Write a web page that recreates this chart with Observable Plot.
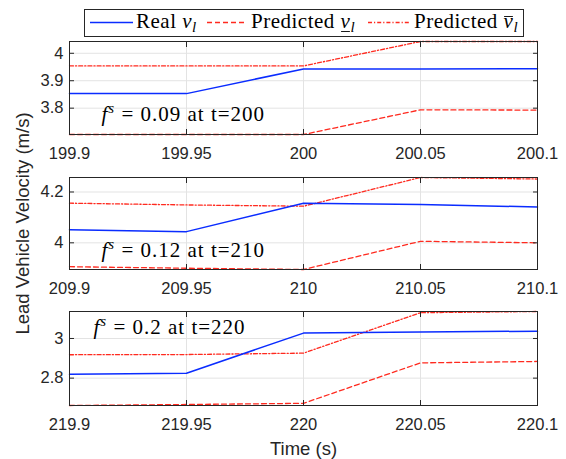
<!DOCTYPE html>
<html><head><meta charset="utf-8">
<script src="https://cdn.jsdelivr.net/npm/d3@7"></script>
<script src="https://cdn.jsdelivr.net/npm/@observablehq/plot@0.6"></script>
<style>
body{margin:0;background:#fff;}
#chart{position:relative;width:566px;height:459px;overflow:hidden;background:#fff;font-family:"Liberation Sans",Arial,sans-serif;}
#chart svg{position:absolute;left:0;overflow:visible;}
#chart text{white-space:pre;}
</style></head><body><div id="chart"></div>
<script>
// ---- data ----
const times1 = [199.9, 199.95, 200, 200.05, 200.1];
const real1  = [3.853, 3.853, 3.943, 3.943, 3.944];
const lower1 = [3.704, 3.704, 3.704, 3.794, 3.793];
const upper1 = [3.954, 3.954, 3.954, 4.043, 4.043];
const yTicks1 = [3.8, 3.9, 4];

const times2 = [209.9, 209.95, 210, 210.05, 210.1];
const real2  = [4.051, 4.044, 4.156, 4.151, 4.141];
const lower2 = [3.906, 3.900, 3.895, 4.006, 4.000];
const upper2 = [4.156, 4.149, 4.144, 4.257, 4.251];
const yTicks2 = [4, 4.2];

const times3 = [219.9, 219.95, 220, 220.05, 220.1];
const real3  = [2.819, 2.825, 3.027, 3.032, 3.037];
const lower3 = [2.662, 2.667, 2.673, 2.877, 2.884];
const upper3 = [2.918, 2.919, 2.926, 3.130, 3.136];
const yTicks3 = [2.8, 3];

const noteRest = [" = 0.09 at t=200", " = 0.12 at t=210", " = 0.2 at t=220"];
const xLabel = "Time (s)";
const yLabel = "Lead Vehicle Velocity (m/s)";

// ---- styles / layout ----
const BLUE = "#0a2cff", RED = "#ff2a1f", INK = "#262626", GRID = "#e3e3e3";
const DASH = "5,3", DASHDOT = "4,2,1.2,2";
const SERIF = "'Liberation Serif', 'Times New Roman', serif";
const panels = [
  {t: times1, r: real1, lo: lower1, up: upper1, yt: yTicks1, top: 41, h: 93, ndx: 32, ndy: 79},
  {t: times2, r: real2, lo: lower2, up: upper2, yt: yTicks2, top: 177, h: 92, ndx: 32, ndy: 79},
  {t: times3, r: real3, lo: lower3, up: upper3, yt: yTicks3, top: 311, h: 94, ndx: 24, ndy: 22.5}
];
const fmt = d => String(d);
const chart = document.getElementById("chart");

panels.forEach((p, i) => {
  const mt = 4, mb = i === 2 ? 54 : 30;
  const full = "fs" + noteRest[i];
  const svg = Plot.plot({
    width: 566, height: mt + p.h + mb,
    marginLeft: 69, marginRight: 29, marginTop: mt, marginBottom: mb,
    x: {domain: [p.t[0], p.t[p.t.length - 1]]},
    y: {domain: d3.extent([...p.r, ...p.lo, ...p.up])},
    style: {fontFamily: "'Liberation Sans', Arial, sans-serif", fontSize: "16.5px", color: INK, background: "transparent", overflow: "visible"},
    marks: [
      Plot.gridX(p.t, {stroke: GRID, strokeOpacity: 1}),
      Plot.gridY(p.yt, {stroke: GRID, strokeOpacity: 1}),
      Plot.line(p.up, {x: p.t, y: d => d, stroke: RED, strokeWidth: 1.3, strokeDasharray: DASHDOT}),
      Plot.line(p.lo, {x: p.t, y: d => d, stroke: RED, strokeWidth: 1.3, strokeDasharray: DASH}),
      Plot.line(p.r, {x: p.t, y: d => d, stroke: BLUE, strokeWidth: 1.5}),
      Plot.frame({stroke: INK}),
      Plot.axisX(p.t, {anchor: "bottom", tickSize: -5, fill: "none", stroke: INK, label: null}),
      Plot.axisX(p.t, {anchor: "top", tickSize: -5, fill: "none", stroke: INK, label: null}),
      Plot.axisY(p.yt, {anchor: "left", tickSize: -5, fill: "none", stroke: INK, label: null}),
      Plot.axisY(p.yt, {anchor: "right", tickSize: -5, fill: "none", stroke: INK, label: null}),
      Plot.axisX(p.t, {anchor: "bottom", tickSize: 0, tickPadding: 13, tickFormat: fmt, fill: INK,
        label: i === 2 ? xLabel : null, labelAnchor: "center", labelArrow: "none", labelOffset: 49}),
      Plot.axisY(p.yt, {anchor: "left", tickSize: 0, tickPadding: 6, tickFormat: fmt, fill: INK,
        label: i === 1 ? yLabel : null, labelAnchor: "center", labelArrow: "none", labelOffset: 54}),
      Plot.text([full], {text: d => d, frameAnchor: "top-left", dx: p.ndx, dy: p.ndy, textAnchor: "start",
        lineAnchor: "bottom", fontFamily: SERIF, fontSize: 21, fill: "black"})
    ]
  });
  svg.style.top = (p.top - mt) + "px";
  const s = d3.select(svg);
  s.selectAll("text").filter(function() { return this.textContent === yLabel || this.textContent === xLabel; })
    .style("font-size", "18.5px");
  s.selectAll("text").filter(function() { return this.textContent === full; }).each(function() {
    const t = d3.select(this).text(null)
      .style("font-family", SERIF).style("font-size", "21px").style("letter-spacing", "1px");
    t.append("tspan").style("font-family", SERIF).style("font-style", "italic").text("f");
    t.append("tspan").style("font-family", SERIF).style("font-style", "italic").style("font-size", "15px")
      .attr("dy", -8).text("s");
    t.append("tspan").style("font-family", SERIF).style("font-style", "normal").attr("dy", 8).text(noteRest[i]);
  });
  chart.appendChild(svg);
});

// ---- legend ----
const legendItems = [
  {name: "Real ", bar: null, color: BLUE, dash: null, x0: 90, x1: 133, tx: 136},
  {name: "Predicted ", bar: "under", color: RED, dash: DASH, x0: 207, x1: 245, tx: 251},
  {name: "Predicted ", bar: "over", color: RED, dash: DASHDOT, x0: 368, x1: 409, tx: 414}
];
const lg = d3.create("svg").attr("width", 566).attr("height", 40).style("top", "0px");
lg.append("rect").attr("x", 84.5).attr("y", 9.5).attr("width", 439).attr("height", 27)
  .attr("fill", "white").attr("stroke", INK).attr("stroke-width", 1);
chart.appendChild(lg.node());
legendItems.forEach(it => {
  lg.append("line").attr("x1", it.x0).attr("x2", it.x1).attr("y1", 22.5).attr("y2", 22.5)
    .attr("stroke", it.color).attr("stroke-width", it.dash ? 1.3 : 1.5).attr("stroke-dasharray", it.dash);
  const t = lg.append("text").attr("x", it.tx).attr("y", 28.3)
    .style("font-family", SERIF).style("font-size", "21px").attr("fill", "black").style("letter-spacing", "0.5px");
  t.append("tspan").text(it.name);
  t.append("tspan").attr("font-style", "italic").text("v");
  t.append("tspan").attr("font-style", "italic").style("font-size", "15px").attr("dy", 4).text("l");
  if (it.bar) {
    const node = t.node(), k = it.name.length;
    const a = node.getStartPositionOfChar(k).x, b = node.getEndPositionOfChar(k).x;
    const y = it.bar === "under" ? 31.5 : 16.5;
    lg.append("line").attr("x1", a + 0.5).attr("x2", b - 0.5).attr("y1", y).attr("y2", y)
      .attr("stroke", "black").attr("stroke-width", 0.9);
  }
});
</script></body></html>
